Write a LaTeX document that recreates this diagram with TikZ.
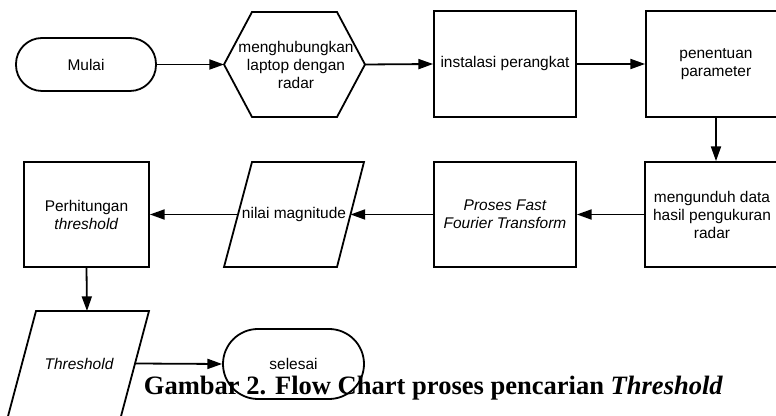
\documentclass[tikz,border=0pt]{standalone}
\usepackage{fontspec}
\setmainfont{Liberation Sans}
\newfontfamily\capfont{Liberation Serif}
\usetikzlibrary{arrows.meta}
\begin{document}
\begin{tikzpicture}[x=0.75pt,y=-0.75pt,
  every node/.style={font=\fontsize{11.6pt}{13.5pt}\selectfont, align=center, inner sep=0pt},
  outline/.style={line width=1.35pt, line join=miter},
  procbox/.style={draw, outline, rectangle, minimum height=78.75pt},
  term/.style={draw, outline, rectangle, rounded corners=#1},
  flow/.style={line width=1.35pt, -{Triangle[length=11pt,width=7.5pt]}}]
\useasboundingbox (0,0) rectangle (776,416);
\clip (0,0) rectangle (776,416);
\fill[white] (0,0) rectangle (776,416);
% row 1
\node[term=19.5pt, minimum width=105pt, minimum height=39.75pt] (mulai) at (86,64.5) {Mulai};
\draw[outline] (224,64.5) -- (252,12) -- (337,12) -- (365,64.5) -- (337,117) -- (252,117) -- cycle;
\node (hex) at (296,65) {menghubungkan\\laptop dengan\\radar};
\coordinate (hexL) at (224,64.5);
\coordinate (hexR) at (365,64.5);
\node[procbox, minimum width=106.5pt, minimum height=79.5pt] (inst) at (505,64) {instalasi perangkat};
\node[procbox, minimum width=105pt, minimum height=79.5pt] (param) at (716,64) {penentuan\\parameter};
% row 2
\node[procbox, minimum width=100.5pt] (unduh) at (712,214.5) {mengunduh data\\hasil pengukuran\\radar};
\node[procbox, minimum width=106.5pt] (fft) at (505,214.5) {\itshape Proses Fast\\\itshape Fourier Transform};
\draw[outline] (252,162) -- (364,162) -- (337,267) -- (224,267) -- cycle;
\node (nilai) at (294,214.5) {nilai magnitude};
\coordinate (nilaiL) at (238,214.5);
\coordinate (nilaiR) at (350.5,214.5);
\node[procbox, minimum width=93.75pt] (hitung) at (86.5,214.5) {Perhitungan\\\textit{threshold}};
% row 3
\draw[outline] (36,311) -- (149,311) -- (120,420) -- (7,420) -- cycle;
\node (thr) at (79,363.5) {\itshape Threshold};
\coordinate (thrT) at (87,311);
\coordinate (thrR) at (135,363.5);
\node[term=26.25pt, minimum width=105.75pt, minimum height=52.5pt] (selesai) at (293.5,364) {selesai};
% connectors
\draw[flow] (mulai.east) -- (hexL);
\draw[flow] (hexR) -- (inst.west);
\draw[flow] (inst.east) -- (param.west);
\draw[flow] (param.south) -- (param.south |- unduh.north);
\draw[flow] (unduh.west) -- (unduh.west -| fft.east);
\draw[flow] (fft.west) -- (nilaiR);
\draw[flow] (nilaiL) -- (hitung.east);
\draw[flow] (hitung.south) -- (thrT);
\draw[flow] (thrR) -- (selesai.west);
% caption
\node[anchor=base, font=\capfont\bfseries\fontsize{19.9pt}{24pt}\selectfont] (cap) at (433.5,395) {Gambar 2. Flow Chart proses pencarian \textit{Threshold}};
\end{tikzpicture}
\end{document}
